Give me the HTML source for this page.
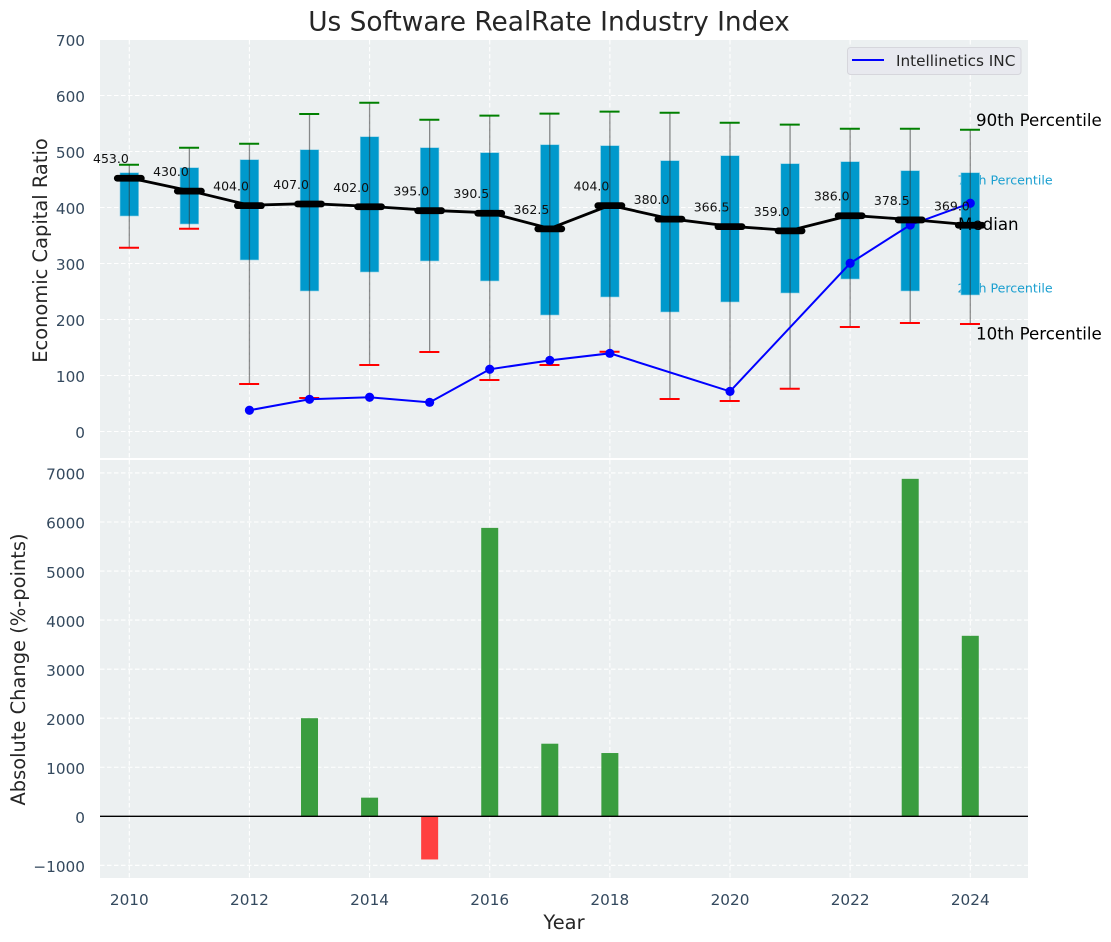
<!DOCTYPE html>
<html lang="en">
<head>
<meta charset="utf-8">
<title>Us Software RealRate Industry Index</title>
<style>
html,body{margin:0;padding:0;background:#fff;width:1111px;height:942px;overflow:hidden}
svg{display:block;font-family:"DejaVu Sans","Liberation Sans",sans-serif}
</style>
</head>
<body>
<svg id="chart" xmlns="http://www.w3.org/2000/svg" width="1111" height="942" viewBox="0 0 1111 942"></svg>
<script>
const years = [2010,2011,2012,2013,2014,2015,2016,2017,2018,2019,2020,2021,2022,2023,2024];
const p90 = [476.4,506.8,513.9,567,587.1,556.8,564,567.6,571.1,569.3,551.4,547.9,540.7,540.7,538.9];
const p75 = [462.1,471.1,485.4,503.2,526.4,506.8,497.9,512.1,510.4,483.6,492.5,478.2,481.8,465.7,462.1];
const medians = [453,430,404,407,402,395,390.5,362.5,404,380,366.5,359,386,378.5,369];
const p25 = [384.8,370.5,306.3,250.9,284.8,304.5,268.8,208,240.2,213.4,231.3,247.3,272.3,250.9,243.8];
const p10 = [328.2,362.1,84.8,59.8,118.8,142,92,118.8,142.5,58,54.5,76.4,186.6,193.8,192];
const company = [null,null,37.9,57.5,61.1,52.1,111.1,127.1,139.6,null,71.6,null,300.4,368.8,407.6];
const changes = [0,0,0,2000,380,-880,5880,1480,1290,0,0,0,0,6880,3680];
const xTicks = [2010,2012,2014,2016,2018,2020,2022,2024];
const topTicks = [0,100,200,300,400,500,600,700];
const bottomTicks = [-1000,0,1000,2000,3000,4000,5000,6000,7000];

const NS = 'http://www.w3.org/2000/svg';
const svg = document.getElementById('chart');
const L = 100, R = 1028, T1 = 40, B1 = 458, T2 = 460, B2 = 878;
const x = v => 129.3 + (v - 2010) * 60.07;
const y1 = v => 431.5 - v * 0.56;
const y2 = v => 816.3 - v * 0.04905;

function make(tag, attrs, parent, text) {
  const el = document.createElementNS(NS, tag);
  for (const k in attrs) el.setAttribute(k, attrs[k]);
  if (text !== undefined) el.textContent = text;
  (parent || svg).appendChild(el);
  return el;
}
function label(name, el) {
  
  
  return el;
}

label('chart-title', make('text', {x:549, y:30.5, 'text-anchor':'middle', 'font-size':26.4, fill:'#262626'}, svg, 'Us Software RealRate Industry Index'));

label('top-panel-background', make('rect', {x:L, y:T1, width:R-L, height:B1-T1, fill:'#ecf0f1'}));
label('bottom-panel-background', make('rect', {x:L, y:T2, width:R-L, height:B2-T2, fill:'#ecf0f1'}));

const grid = make('g', {stroke:'#ffffff', 'stroke-width':1.1, 'stroke-dasharray':'4.5 2.5', fill:'none'});
label('grid-lines', grid);
xTicks.forEach(t => {
  make('line', {x1:x(t), x2:x(t), y1:T1, y2:B1}, grid);
  make('line', {x1:x(t), x2:x(t), y1:T2, y2:B2}, grid);
});
topTicks.forEach(t => make('line', {x1:L, x2:R, y1:y1(t), y2:y1(t)}, grid));
bottomTicks.forEach(t => make('line', {x1:L, x2:R, y1:y2(t), y2:y2(t)}, grid));

const tickStyle = {'font-size':15.28, fill:'#34495e'};
xTicks.forEach(t => {
  label('x-tick-label', make('text', Object.assign({x:x(t), y:905, 'text-anchor':'middle'}, tickStyle), svg, String(t)));
});
topTicks.forEach(t => {
  label('top-y-tick-label', make('text', Object.assign({x:85, y:y1(t)+6.7, 'text-anchor':'end'}, tickStyle), svg, String(t)));
});
bottomTicks.forEach(t => {
  label('bottom-y-tick-label', make('text', Object.assign({x:85, y:y2(t)+6.7, 'text-anchor':'end'}, tickStyle), svg, String(t).replace('-', '\u2212')));
});

label('x-axis-title', make('text', {x:564, y:929, 'text-anchor':'middle', 'font-size':19.44, fill:'#262626'}, svg, 'Year'));
label('top-y-axis-title', make('text', {transform:'translate(47 250.5) rotate(-90)', 'text-anchor':'middle', 'font-size':19.44, fill:'#262626'}, svg, 'Economic Capital Ratio'));
label('bottom-y-axis-title', make('text', {transform:'translate(25 669.5) rotate(-90)', 'text-anchor':'middle', 'font-size':19.44, fill:'#262626'}, svg, 'Absolute Change (%-points)'));

label('p75-annotation', make('text', {x:957.5, y:184.3, 'font-size':12.6, fill:'#1a9fd0'}, svg, '75th Percentile'));
label('p25-annotation', make('text', {x:957.5, y:292.3, 'font-size':12.6, fill:'#1a9fd0'}, svg, '25th Percentile'));

years.forEach((yr, i) => {
  const cx = x(yr);
  const box = make('rect', {x:cx-9.3, y:y1(p75[i]), width:18.6, height:y1(p25[i])-y1(p75[i]), fill:'#0099cc', stroke:'#8fd0e6', 'stroke-width':0.6});
  label('iqr-box-' + yr, box);
});
years.forEach((yr, i) => {
  const cx = x(yr);
  label('whisker-' + yr, make('line', {x1:cx, x2:cx, y1:y1(p90[i]), y2:y1(p10[i]), stroke:'#333333', 'stroke-opacity':0.55, 'stroke-width':1.3}));
  label('p90-cap-' + yr, make('line', {x1:cx-10.3, x2:cx+9.7, y1:y1(p90[i]), y2:y1(p90[i]), stroke:'#008000', 'stroke-width':2}));
  label('p10-cap-' + yr, make('line', {x1:cx-10.3, x2:cx+9.7, y1:y1(p10[i]), y2:y1(p10[i]), stroke:'#ff0000', 'stroke-width':2}));
});

const companyPts = years.map((yr, i) => company[i] === null ? null : x(yr) + ',' + y1(company[i])).filter(Boolean).join(' ');
label('company-line', make('polyline', {points:companyPts, fill:'none', stroke:'#0000ff', 'stroke-width':2}));
years.forEach((yr, i) => {
  if (company[i] === null) return;
  label('company-point-' + yr, make('circle', {cx:x(yr), cy:y1(company[i]), r:4.6, fill:'#0000ff'}));
});

label('median-annotation', make('text', {x:958, y:230, 'font-size':16.67, fill:'#000'}, svg, 'Median'));

label('median-line', make('polyline', {points:years.map((yr, i) => x(yr) + ',' + y1(medians[i])).join(' '), fill:'none', stroke:'#000', 'stroke-width':2.8}));
years.forEach((yr, i) => {
  const cx = x(yr), my = y1(medians[i]) + 0.4;
  label('median-marker-' + yr, make('line', {x1:cx-12, x2:cx+12, y1:my, y2:my, stroke:'#000', 'stroke-width':6.8, 'stroke-linecap':'round'}));
  label('median-value-' + yr, make('text', {x:cx-0.5, y:my-15, 'text-anchor':'end', 'font-size':12.5, fill:'#111'}, svg, medians[i].toFixed(1)));
});

label('p90-annotation', make('text', {x:976, y:126, 'font-size':16.67, fill:'#000'}, svg, '90th Percentile'));
label('p10-annotation', make('text', {x:976, y:339.3, 'font-size':16.67, fill:'#000'}, svg, '10th Percentile'));

years.forEach((yr, i) => {
  if (!changes[i]) return;
  const top = Math.min(y2(0), y2(changes[i]));
  const h = Math.abs(y2(changes[i]) - y2(0));
  label('change-bar-' + yr, make('rect', {x:x(yr)-8.5, y:top, width:17, height:h, fill:changes[i] > 0 ? '#3a9d3f' : '#ff4040'}));
});
label('zero-line', make('line', {x1:L, x2:R, y1:y2(0), y2:y2(0), stroke:'#000', 'stroke-width':1.3}));

const legend = make('g', {});
label('legend', legend);
make('rect', {x:847.5, y:47.5, width:173.5, height:27, rx:3, fill:'#e8e9ef', stroke:'#d6d6dc', 'stroke-width':1}, legend);
make('line', {x1:852, x2:884, y1:60, y2:60, stroke:'#0000ff', 'stroke-width':2}, legend);
make('text', {x:896, y:66, 'font-size':15.28, fill:'#262626'}, legend, 'Intellinetics INC');
</script>
</body>
</html>
